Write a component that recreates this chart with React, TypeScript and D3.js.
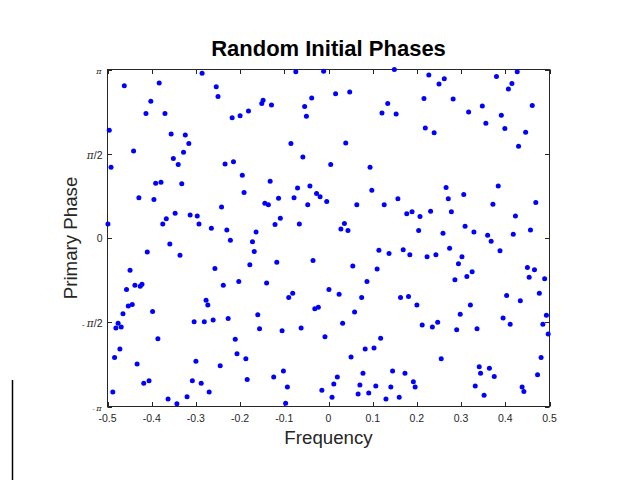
import React from 'react';
import * as d3 from 'd3';

const freq = [
  -0.286, -0.462, -0.383, -0.254, -0.250, -0.402, -0.413, -0.370, -0.181, -0.218,
  -0.200, -0.496, -0.356, -0.324, -0.316, -0.441, -0.328, -0.351, -0.492, -0.340,
  -0.234, -0.215, -0.195, -0.391, -0.379, -0.332, -0.191, -0.429, -0.395, -0.242,
  -0.347, -0.313, -0.297, -0.367, -0.375, -0.293, -0.499, -0.265, -0.230, -0.074,
  -0.011, 0.149, -0.151, -0.148, -0.129, -0.038, -0.054, -0.050, 0.016, 0.048,
  0.134, 0.121, 0.153, -0.085, 0.039, -0.058, 0.005, 0.094, -0.132, -0.070,
  -0.042, -0.027, -0.019, -0.113, -0.078, -0.144, -0.136, -0.047, -0.004, 0.098,
  0.064, 0.126, 0.157, -0.109, -0.121, -0.066, 0.036, 0.028, 0.044, -0.164,
  0.227, 0.262, 0.250, 0.380, 0.427, 0.415, 0.407, 0.216, 0.282, 0.317,
  0.348, 0.461, 0.356, 0.391, 0.219, 0.239, 0.399, 0.446, 0.430, 0.266,
  0.384, 0.271, 0.306, 0.372, 0.469, 0.177, 0.189, 0.207, 0.231, 0.278,
  0.423, 0.204, 0.259, 0.309, 0.329, 0.360, 0.418, 0.457, -0.359, -0.410,
  -0.336, -0.222, -0.178, -0.449, -0.257, -0.457, -0.438, -0.426, -0.422, -0.238,
  -0.203, -0.453, -0.444, -0.465, -0.398, -0.277, -0.273, -0.476, -0.481, -0.469,
  -0.304, -0.281, -0.261, -0.227, -0.386, -0.211, -0.472, -0.207, -0.484, -0.187,
  -0.433, -0.300, -0.245, -0.406, -0.418, -0.308, -0.288, -0.184, -0.488, -0.270,
  -0.363, -0.343, -0.320, -0.172, -0.168, -0.117, -0.035, 0.114, 0.137, 0.055,
  0.110, -0.140, -0.090, -0.081, 0.001, 0.024, 0.087, 0.075, 0.163, -0.160,
  -0.031, -0.023, 0.059, -0.156, -0.105, -0.062, 0.032, -0.008, 0.118, 0.083,
  0.103, 0.051, -0.102, -0.124, 0.078, 0.145, 0.020, -0.093, 0.012, 0.071,
  0.107, 0.141, -0.015, 0.008, 0.067, 0.091, 0.130, 0.160, -0.097, 0.169,
  0.184, 0.223, 0.243, 0.274, 0.302, 0.294, 0.388, 0.325, 0.313, 0.286,
  0.450, 0.466, 0.454, 0.489, 0.181, 0.200, 0.403, 0.434, 0.477, 0.321,
  0.298, 0.395, 0.411, 0.493, 0.485, 0.497, 0.212, 0.235, 0.247, 0.290,
  0.336, 0.255, 0.173, 0.192, 0.196, 0.341, 0.344, 0.364, 0.375, 0.332,
  0.352, 0.438, 0.442, 0.481, 0.473, 0.368,
];

const phase = [
  3.07, 2.84, 2.89, 2.82, 2.64, 2.55, 2.32, 2.32, 2.37, 2.24,
  2.28, 2.01, 1.94, 1.92, 1.76, 1.62, 1.60, 1.48, 1.32, 1.37,
  1.38, 1.42, 1.17, 1.02, 1.04, 1.01, 0.85, 0.75, 0.72, 0.58,
  0.46, 0.43, 0.41, 0.36, 0.26, 0.26, 0.26, 0.18, 0.15, 3.10,
  3.11, 3.14, 2.51, 2.57, 2.48, 2.61, 2.45, 2.27, 2.69, 2.72,
  2.51, 2.33, 2.31, 1.76, 1.77, 1.51, 1.37, 1.32, 1.06, 0.93,
  0.97, 0.83, 0.77, 0.74, 0.75, 0.65, 0.62, 0.62, 0.68, 0.89,
  0.62, 0.62, 0.73, 0.37, 0.25, 0.26, 0.27, 0.17, 0.14, 0.11,
  3.04, 2.97, 2.87, 3.01, 3.10, 2.88, 2.78, 2.60, 2.59, 2.35,
  2.46, 2.47, 2.14, 2.29, 2.05, 1.96, 2.04, 1.97, 1.71, 0.94,
  0.97, 0.73, 0.81, 0.63, 0.66, 0.45, 0.49, 0.40, 0.50, 0.49,
  0.41, 0.14, 0.09, 0.22, 0.11, 0.05, 0.07, 0.15, -0.11, -0.26,
  -0.32, -0.04, -0.50, -0.60, -0.57, -0.96, -0.88, -0.90, -0.86, -0.88,
  -0.81, -1.27, -1.24, -1.41, -1.37, -1.16, -1.25, -1.59, -1.68, -1.66,
  -1.56, -1.56, -1.53, -1.50, -1.88, -1.89, -2.07, -2.16, -2.23, -2.25,
  -2.35, -2.30, -2.38, -2.66, -2.71, -2.66, -2.71, -2.64, -2.87, -2.87,
  -3.00, -3.09, -2.96, -0.07, -0.25, -0.45, -0.42, -0.23, -0.29, -0.52,
  -0.58, -0.84, -1.11, -1.03, -0.96, -1.05, -0.81, -1.11, -1.11, -1.43,
  -1.32, -1.29, -1.38, -1.69, -1.73, -1.68, -1.59, -1.84, -1.87, -2.07,
  -2.05, -2.22, -2.48, -2.59, -2.52, -2.48, -2.59, -2.78, -2.72, -2.74,
  -2.76, -2.78, -2.84, -2.97, -2.91, -2.89, -3.00, -2.97, -3.08, -0.22,
  -0.31, -0.35, -0.31, -0.19, -0.35, -0.48, -0.24, -0.63, -0.72, -0.78,
  -0.55, -0.59, -0.73, -0.76, -1.09, -1.25, -1.07, -1.17, -1.03, -1.25,
  -1.42, -1.49, -1.61, -1.44, -1.61, -1.79, -1.62, -1.66, -1.57, -1.71,
  -1.69, -2.25, -2.52, -2.68, -2.78, -2.40, -2.52, -2.43, -2.58, -2.76,
  -2.93, -2.78, -2.86, -2.23, -2.55, -0.06,
];

const xTicks = [-0.5, -0.4, -0.3, -0.2, -0.1, 0, 0.1, 0.2, 0.3, 0.4, 0.5];
const xTickLabels = ['-0.5', '-0.4', '-0.3', '-0.2', '-0.1', '0', '0.1', '0.2', '0.3', '0.4', '0.5'];
const yTicks = [-Math.PI, -Math.PI / 2, 0, Math.PI / 2, Math.PI];
const yTickLabels = ['-π', '-π/2', '0', 'π/2', 'π'];

const title = 'Random Initial Phases';
const xLabel = 'Frequency';
const yLabel = 'Primary Phase';

const W = 624;
const H = 480;
const L = 107.5, R = 549.5, T = 69.5, B = 406.5;
const axisColor = '#262626';
const font = '"Liberation Sans", Arial, Helvetica, sans-serif';

export default function App() {
  const x = d3.scaleLinear().domain([-0.5, 0.5]).range([L, R]);
  const y = d3.scaleLinear().domain([-Math.PI, Math.PI]).range([B, T]);
  const pts = freq.map((f, i) => ({ f, p: phase[i] }));
  const tickLen = 4.5;

  const renderYLabel = (lab: string, v: number) => {
    const yy = y(v);
    const big = lab === '-π/2' || lab === 'π/2' || lab === '0';
    if (lab === '0') {
      return (
        <text key={lab} x={102.5} y={yy + 4} textAnchor="end" fontSize={10.5} fill={axisColor} fontFamily={font}>0</text>
      );
    }
    const parts = lab.split('π');
    return (
      <text key={lab} x={big ? 102.5 : 101.5} y={yy + (big ? 5 : 4.2)} textAnchor="end" fontSize={big ? 10.5 : 8} fill={axisColor} fontFamily={font}>
        {parts[0] && <tspan fontSize={big ? 8 : 6}>{parts[0] === '-' ? '- ' : parts[0]}</tspan>}
        <tspan fontStyle="italic" fontFamily='"DejaVu Serif", serif'>π</tspan>
        {parts[1] && <tspan>{parts[1]}</tspan>}
      </text>
    );
  };

  return (
    <svg width={W} height={H} viewBox={`0 0 ${W} ${H}`} style={{ position: 'absolute', left: 0, top: 0, background: '#fff' }}>
      <rect x={0} y={0} width={W} height={H} fill="#ffffff" />
      <line x1={12.5} x2={12.5} y1={380} y2={H} stroke="#000" strokeWidth={1.5} />
      <rect x={L} y={T} width={R - L} height={B - T} fill="#fff" stroke={axisColor} strokeWidth={1} />
      {xTicks.map((t) => (
        <g key={'xt' + t}>
          <line x1={Math.round(x(t)) + 0.5} x2={Math.round(x(t)) + 0.5} y1={B} y2={B - tickLen} stroke={axisColor} />
          <line x1={Math.round(x(t)) + 0.5} x2={Math.round(x(t)) + 0.5} y1={T} y2={T + tickLen} stroke={axisColor} />
        </g>
      ))}
      {yTicks.map((t) => (
        <g key={'yt' + t}>
          <line x1={L} x2={L + tickLen} y1={Math.round(y(t)) + 0.5} y2={Math.round(y(t)) + 0.5} stroke={axisColor} />
          <line x1={R} x2={R - tickLen} y1={Math.round(y(t)) + 0.5} y2={Math.round(y(t)) + 0.5} stroke={axisColor} />
        </g>
      ))}
      {xTicks.map((t, i) => (
        <text key={'xl' + t} x={x(t)} y={421.5} textAnchor="middle" fontSize={10.5} fill={axisColor} fontFamily={font}>
          {xTickLabels[i]}
        </text>
      ))}
      {yTicks.map((t, i) => renderYLabel(yTickLabels[i], t))}
      {pts.map((d, i) => (
        <circle key={i} cx={x(d.f)} cy={y(d.p)} r={2.5} fill="#0000ff" />
      ))}
      <text x={(L + R) / 2} y={56} textAnchor="middle" fontSize={22} fontWeight="bold" fill="#000" fontFamily={font}>
        {title}
      </text>
      <text x={(L + R) / 2} y={444} textAnchor="middle" fontSize={18.7} fill={axisColor} fontFamily={font}>
        {xLabel}
      </text>
      <text transform={`translate(77, ${(T + B) / 2}) rotate(-90)`} textAnchor="middle" fontSize={18.7} fill={axisColor} fontFamily={font}>
        {yLabel}
      </text>
    </svg>
  );
}
